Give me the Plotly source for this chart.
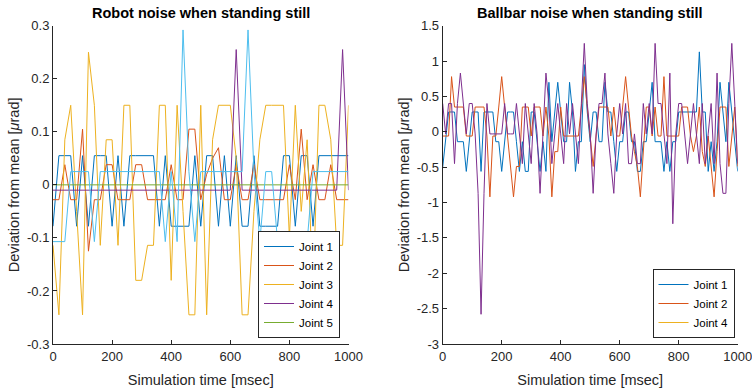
import plotly.graph_objects as go

# ---------------- data ----------------
# Left: robot joint noise, sampled every 20 ms
t_robot = list(range(0, 1001, 20))
robot_j1 = [-0.078, 0.055, 0.055, 0.055, -0.078, 0.055, -0.078, 0.055, 0.055, 0.055,
            -0.078, 0.055, -0.078, 0.055, 0.055, 0.055, 0.055, 0.055, -0.078, 0.055,
            -0.078, -0.078, -0.078, -0.078, 0.055, -0.078, 0.055, 0.055, -0.078, 0.055,
            -0.078, 0.055, -0.078, -0.078, 0.055, -0.078, -0.078, -0.078, -0.078, 0.055,
            0.055, -0.078, 0.055, 0.055, -0.078, 0.055, 0.055, 0.055, 0.055, 0.055, 0.055]
robot_j2 = [-0.028, -0.028, 0.038, -0.028, -0.028, 0.105, -0.125, -0.028, -0.028, 0.038,
            0.038, -0.028, -0.028, -0.028, 0.038, 0.038, -0.028, -0.028, -0.028, -0.028,
            0.038, -0.028, -0.028, 0.105, 0.105, -0.028, 0.02, 0.05, 0.07, -0.028,
            -0.028, 0.038, -0.028, -0.028, 0.038, -0.028, -0.028, -0.028, -0.028, -0.028,
            0.038, -0.028, 0.105, -0.028, 0.038, -0.028, -0.028, 0.038, -0.028, -0.028, -0.028]
robot_j3 = [-0.114, -0.245, 0.085, 0.15, -0.05, -0.245, 0.25, 0.15, -0.114, 0.085,
            0.085, -0.114, 0.15, 0.15, -0.18, -0.18, -0.114, -0.114, 0.15, 0.15,
            -0.18, 0.15, -0.05, -0.245, -0.245, 0.15, -0.245, 0.085, 0.15, 0.15,
            0.15, 0.05, -0.245, -0.245, -0.05, 0.085, 0.15, 0.15, 0.15, 0.15,
            -0.1, 0.15, -0.05, 0.085, -0.2, 0.15, 0.15, 0.085, -0.114, -0.114, 0.15]
robot_j4 = [-0.01] * 31 + [0.255] + [-0.01] * 17 + [0.255, -0.01]
robot_j5 = [0.0] * 51
robot_j6 = [-0.107, -0.107, -0.107, 0.025, 0.025, 0.025, 0.025, -0.107, 0.025, 0.025,
            0.025, 0.025, 0.025, 0.025, 0.025, 0.025, 0.025, 0.025, 0.025, -0.107,
            0.025, -0.107, 0.292, 0.025, -0.107, 0.025, 0.025, 0.025, 0.025, 0.025,
            0.025, 0.025, 0.025, 0.292, 0.025, -0.107, 0.025, 0.025, -0.107, -0.107,
            -0.107, -0.107, -0.107, -0.107, 0.025, 0.025, 0.025, 0.025, 0.025, 0.025, 0.025]

# Right: ballbar noise, sampled every 10 ms
t_ballbar = list(range(0, 1001, 10))
ballbar_j1 = [-0.5, -0.14, 0.28, 0.28, 0.28, -0.14, -0.14, -0.14, -0.56, -0.14,
              0.28, 0.28, 0.28, -0.56, 0.28, 0.28, 0.28, 0.28, -0.14, -0.14,
              -0.56, -0.14, 0.28, 0.28, 0.28, -0.14, -0.56, -0.14, -0.56, -0.56,
              0.28, 0.28, -0.14, -0.56, -0.14, -0.56, 0.70, -0.14, 0.28, 0.70,
              0.28, -0.14, -0.14, 0.70, 0.28, -0.56, -0.14, -0.14, 0.95, 0.28,
              -0.14, 0.28, 0.28, -0.14, -0.14, 0.70, 0.28, 0.28, -0.14, -0.56,
              -0.14, -0.14, 0.28, 0.28, -0.14, -0.14, -0.56, -0.56, -0.14, -0.14,
              0.28, 0.70, -0.14, -0.14, -0.14, -0.56, -0.14, -0.56, -0.14, -0.14,
              0.28, 0.28, 0.28, 0.28, 0.28, 0.28, 0.28, 1.13, 0.28, 0.28,
              -0.56, -0.14, -0.56, -0.14, 0.70, 0.28, -0.14, 0.70, 0.28, -0.14, -0.56]
ballbar_j2 = [-0.06, -0.06, -0.06, 0.78, 0.35, 0.35, 0.35, 0.35, -0.06, -0.06,
              -0.06, 0.35, 0.35, 0.35, 0.35, -0.06, -0.92, -0.06, -0.06, 0.35,
              0.78, 0.35, -0.06, -0.49, -0.92, -0.49, -0.49, 0.35, 0.35, 0.35,
              -0.06, 0.35, 0.35, 0.35, -0.06, 0.35, -0.06, -0.92, -0.28, -0.28,
              0.35, -0.06, -0.06, -0.06, -0.06, -0.06, -0.06, 0.35, 0.78, 0.35,
              -0.06, -0.49, -0.06, 0.35, 0.35, 0.35, 0.35, -0.06, 0.35, -0.06,
              -0.06, 0.35, 0.78, 0.35, -0.06, -0.28, -0.49, -0.92, -0.28, 0.35,
              0.35, -0.06, 0.35, -0.06, -0.06, 0.78, -0.06, -0.06, -0.06, -0.06,
              -0.06, 0.35, 0.35, 0.35, -0.06, -0.28, -0.06, 0.35, -0.28, -0.49,
              -0.06, -0.49, -0.92, -0.28, 0.35, 0.35, 0.35, -0.49, -0.06, 0.35, -0.49]
ballbar_j4 = [0.4, -0.03, 0.4, 0.4, -0.45, 0.4, 0.83, 0.4, -0.03, 0.4,
              0.4, -0.03, -0.87, -2.58, -0.87, 0.4, -0.03, -0.03, -0.03, -0.03,
              -0.03, 0.4, -0.03, -0.03, -0.03, 0.4, -0.03, -0.45, 0.4, -0.03,
              -0.45, 0.4, -0.03, -0.87, -0.03, 0.83, 0.4, -0.45, -0.03, 0.4,
              -0.03, -0.45, 0.4, -0.03, 0.4, -0.03, -0.45, 0.4, 1.25, 0.4,
              -0.03, -0.87, -0.03, 0.4, 0.4, 0.83, -0.03, -0.45, -0.87, -0.03,
              0.4, -0.03, 0.4, -0.45, -0.45, -0.03, -0.45, -0.45, 0.4, -0.03,
              0.4, -0.03, 1.25, 0.4, 0.4, -0.03, -0.45, 0.83, -1.3, -0.03,
              0.4, 0.4, -0.03, -0.45, -0.03, 0.4, -0.03, -0.45, 0.4, -0.45,
              -0.03, 0.4, -0.45, 0.83, -0.45, -0.87, -0.87, 0.4, 1.25, 0.4, -0.45]

x_ticks = [0, 200, 400, 600, 800, 1000]
x_ticktext = ["0", "200", "400", "600", "800", "1000"]
robot_yticks = [-0.3, -0.2, -0.1, 0, 0.1, 0.2, 0.3]
robot_yticktext = ["-0.3", "-0.2", "-0.1", "0", "0.1", "0.2", "0.3"]
ballbar_yticks = [-3, -2.5, -2, -1.5, -1, -0.5, 0, 0.5, 1, 1.5]
ballbar_yticktext = ["-3", "-2.5", "-2", "-1.5", "-1", "-0.5", "0", "0.5", "1", "1.5"]

C1, C2, C3, C4, C5, C6 = "#0072BD", "#D95319", "#EDB120", "#7E2F8E", "#77AC30", "#4DBEEE"
AX = "#262626"
FONT = "Liberation Sans, Arial, Helvetica, sans-serif"

fig = go.Figure()

def line(x, y, name, color, xa, ya, legend, show=True):
    fig.add_trace(go.Scatter(x=x, y=y, name=name, mode="lines",
                             line=dict(color=color, width=1),
                             xaxis=xa, yaxis=ya, legend=legend, showlegend=show))

line(t_robot, robot_j1, "Joint 1", C1, "x", "y", "legend")
line(t_robot, robot_j2, "Joint 2", C2, "x", "y", "legend")
line(t_robot, robot_j3, "Joint 3", C3, "x", "y", "legend")
line(t_robot, robot_j4, "Joint 4", C4, "x", "y", "legend")
line(t_robot, robot_j5, "Joint 5", C5, "x", "y", "legend")
line(t_robot, robot_j6, "Joint 6", C6, "x", "y", "legend", show=False)

line(t_ballbar, ballbar_j1, "Joint 1", C1, "x2", "y2", "legend2")
line(t_ballbar, ballbar_j2, "Joint 2", C2, "x2", "y2", "legend2")
line([None], [None], "Joint 4", C3, "x2", "y2", "legend2")
line(t_ballbar, ballbar_j4, "Joint 4 ", C4, "x2", "y2", "legend2", show=False)

def xax(domain, anchor):
    return dict(domain=domain, anchor=anchor, range=[0, 1000], tickvals=x_ticks,
                ticktext=x_ticktext, showline=True, linecolor=AX, linewidth=1,
                ticks="inside", ticklen=4, tickcolor=AX, showgrid=False, zeroline=False,
                automargin=False, ticklabeloverflow="allow",
                tickfont=dict(size=13, color=AX, family=FONT),
                title=dict(text="Simulation time [msec]", font=dict(size=14.5, color=AX, family=FONT),
                           standoff=12))

def yax(domain, anchor, rng, tv, tt):
    return dict(domain=domain, anchor=anchor, range=rng, tickvals=tv, ticktext=tt,
                showline=True, linecolor=AX, linewidth=1, ticks="inside", ticklen=4,
                tickcolor=AX, showgrid=False, zeroline=False, automargin=False,
                ticklabeloverflow="allow",
                tickfont=dict(size=13, color=AX, family=FONT),
                title=dict(text="Deviation from mean [<i>μ</i>rad]",
                           font=dict(size=14.5, color=AX, family=FONT), standoff=3))

ydom = [48 / 392, 366.3 / 392]
xdom1 = [53 / 752, 348.5 / 752]
xdom2 = [442.7 / 752, 737.7 / 752]

legend_style = dict(bgcolor="white", bordercolor=AX, borderwidth=1,
                    font=dict(size=11.5, color="#000000", family=FONT),
                    xanchor="right", yanchor="bottom", tracegroupgap=0)

fig.update_layout(
    width=752, height=392, autosize=False,
    margin=dict(l=0, r=0, t=0, b=0, autoexpand=False),
    paper_bgcolor="white", plot_bgcolor="white",
    font=dict(family=FONT),
    xaxis=xax(xdom1, "y"),
    yaxis=yax(ydom, "x", [-0.3, 0.3], robot_yticks, robot_yticktext),
    xaxis2=xax(xdom2, "y2"),
    yaxis2=yax(ydom, "x2", [-3, 1.5], ballbar_yticks, ballbar_yticktext),
    legend=dict(x=340 / 752, y=(392 - 338) / 392, **legend_style),
    legend2=dict(x=734.5 / 752, y=(392 - 338) / 392, **legend_style),
    annotations=[
        dict(text="<b>Robot noise when standing still</b>", x=(xdom1[0] + xdom1[1]) / 2,
             y=(392 - 13) / 392, xref="paper", yref="paper", showarrow=False,
             xanchor="center", yanchor="middle", font=dict(size=14.5, color="#000000", family=FONT)),
        dict(text="<b>Ballbar noise when standing still</b>", x=(xdom2[0] + xdom2[1]) / 2,
             y=(392 - 13) / 392, xref="paper", yref="paper", showarrow=False,
             xanchor="center", yanchor="middle", font=dict(size=14.5, color="#000000", family=FONT)),
    ],
)

fig.write_html("out.html", config={"displayModeBar": False},
               post_script="document.body.style.margin='0';document.body.style.overflow='hidden';")
